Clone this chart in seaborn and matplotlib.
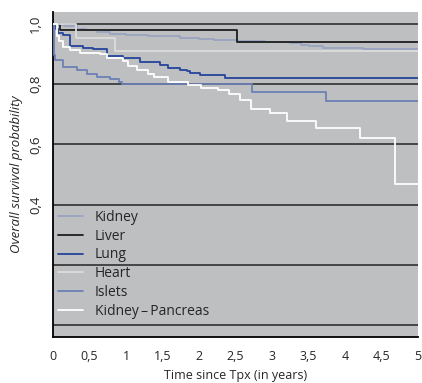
import numpy as np
import pandas as pd
import matplotlib
matplotlib.use('Agg')
import matplotlib.pyplot as plt
import seaborn as sns

# survival curves (time in years, survival probability)
kidney_t = [0, 0.05, 0.15, 0.33, 0.45, 0.6, 0.78, 1.0, 1.3, 1.74, 2.0, 2.2, 2.52, 2.9, 3.25, 3.4, 3.5, 3.7, 4.0, 4.25, 5]
kidney_s = [1.0, 0.997, 0.992, 0.985, 0.98, 0.973, 0.967, 0.963, 0.959, 0.954, 0.951, 0.948, 0.943, 0.94, 0.936, 0.931,
            0.926, 0.922, 0.92, 0.917, 0.917]

liver_t = [0, 0.1, 2.52, 5]
liver_s = [1.0, 0.98, 0.941, 0.941]

lung_t = [0, 0.04, 0.07, 0.14, 0.23, 0.41, 0.55, 0.74, 0.96, 1.19, 1.47, 1.58, 1.74, 1.84, 1.88, 2.01, 2.29, 2.36, 5]
lung_s = [1.0, 0.985, 0.97, 0.965, 0.928, 0.922, 0.916, 0.894, 0.888, 0.874, 0.863, 0.853, 0.847, 0.844, 0.836, 0.832, 0.83, 0.822, 0.822]

heart_t = [0, 0.32, 0.85, 5]
heart_s = [1.0, 0.955, 0.912, 0.912]

islets_t = [0, 0.01, 0.03, 0.14, 0.33, 0.47, 0.6, 0.78, 0.9, 0.94, 2.72, 3.74, 5]
islets_s = [1.0, 0.897, 0.88, 0.858, 0.847, 0.835, 0.824, 0.818, 0.808, 0.80, 0.774, 0.744, 0.744]

kp_t = [0, 0.05, 0.08, 0.14, 0.23, 0.37, 0.64, 0.74, 0.96, 1.03, 1.15, 1.3, 1.38, 1.58, 1.85, 2.03,
        2.26, 2.41, 2.56, 2.71, 2.97, 3.21, 3.6, 4.21, 4.68, 5]
kp_s = [1.0, 0.96, 0.945, 0.925, 0.913, 0.903, 0.9, 0.887, 0.877, 0.86, 0.847, 0.835, 0.823, 0.808, 0.797, 0.789,
        0.78, 0.766, 0.747, 0.719, 0.706, 0.678, 0.656, 0.621, 0.469, 0.469]

groups = ['Kidney', 'Liver', 'Lung', 'Heart', 'Islets', 'Kidney\u2009\u2013\u2009Pancreas']
curves = [(kidney_t, kidney_s), (liver_t, liver_s), (lung_t, lung_s),
          (heart_t, heart_s), (islets_t, islets_s), (kp_t, kp_s)]

x_ticks = [0, 0.5, 1, 1.5, 2, 2.5, 3, 3.5, 4, 4.5, 5]
x_labels = ['0', '0,5', '1', '1,5', '2', '2,5', '3', '3,5', '4', '4,5', '5']
y_ticks = [0, 0.2, 0.4, 0.6, 0.8, 1.0]
y_labels = ['', '', '0,4', '0,6', '0,8', '1,0']

df = pd.concat([pd.DataFrame({'time': t, 'surv': s, 'organ': g})
                for g, (t, s) in zip(groups, curves)], ignore_index=True)

my_pal = dict(zip(groups, ['#9aa4c0', '#1e1e1e', '#27449c', '#dcdcdc', '#6d80b5', '#ffffff']))

sns.set_style('white')
plt.rcParams['font.family'] = ['Open Sans', 'DejaVu Sans']

fig = plt.figure(figsize=(4.22, 3.83), dpi=100)
ax = fig.add_axes([53 / 422, 1 - 337 / 383, 365 / 422, 325 / 383])
ax.set_facecolor('#bebfc1')

for y in y_ticks:
    ax.axhline(y, color='#3c3c3c', lw=1.3, zorder=1)

sns.lineplot(data=df, x='time', y='surv', hue='organ', hue_order=groups, palette=my_pal,
             drawstyle='steps-post', estimator=None, sort=False, lw=1.3, ax=ax, zorder=3)

ax.set_xlim(0, 5)
ax.set_ylim(-0.04, 1.04)
ax.set_xticks(x_ticks)
ax.set_xticklabels(x_labels)
ax.set_yticks(y_ticks)
ax.set_yticklabels(y_labels, rotation=90, va='center')
ax.tick_params(axis='x', direction='out', length=3, width=1, labelsize=9, pad=6, color='black')
ax.tick_params(axis='y', direction='out', length=5, width=1, labelsize=9.5, pad=3, color='black')

for side in ['top', 'right']:
    ax.spines[side].set_visible(False)
for side in ['left', 'bottom']:
    ax.spines[side].set_color('black')
    ax.spines[side].set_linewidth(1.3)

ax.set_xlabel('Time since Tpx (in years)', fontsize=9, labelpad=5)
ax.set_ylabel('Overall survival probability', fontsize=9.5, style='italic', labelpad=4)

handles, labels = ax.get_legend_handles_labels()
ax.legend(handles, labels, loc='lower left', bbox_to_anchor=(0.015, 0.055), frameon=False,
          fontsize=10, handlelength=1.8, handletextpad=0.8, labelspacing=0.28, borderpad=0,
          borderaxespad=0)

fig.savefig('out.png', dpi=100)
